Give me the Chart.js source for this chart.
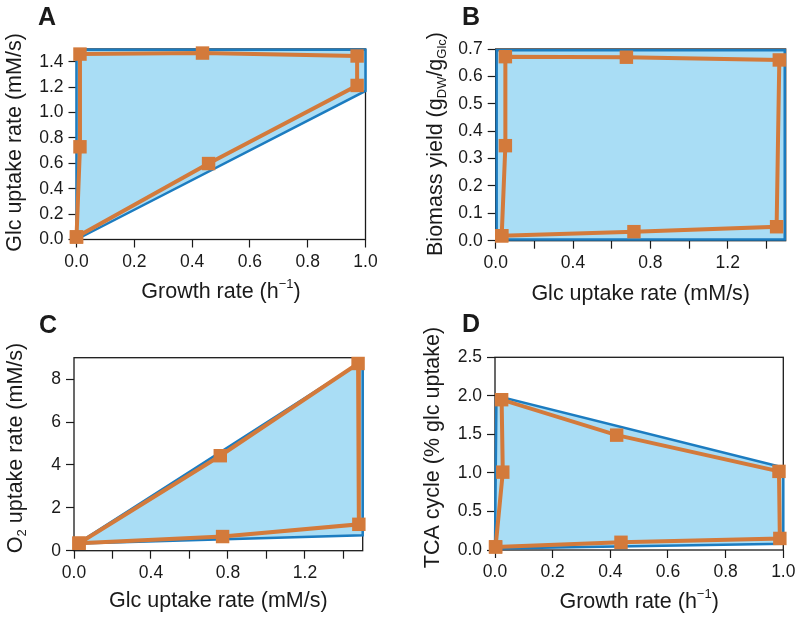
<!DOCTYPE html>
<html>
<head>
<meta charset="utf-8">
<script src="https://cdn.jsdelivr.net/npm/chart.js@4.4.1/dist/chart.umd.min.js"></script>
<style>
html, body { margin: 0; padding: 0; background: #fff; }
#wrap { position: relative; width: 800px; height: 617px; overflow: hidden; }
#wrap canvas { position: absolute; }
</style>
</head>
<body>
<div id="wrap">
<canvas id="panelA" width="400" height="308" style="left:0;top:0"></canvas>
<canvas id="panelB" width="400" height="308" style="left:400px;top:0"></canvas>
<canvas id="panelC" width="400" height="309" style="left:0;top:308px"></canvas>
<canvas id="panelD" width="400" height="309" style="left:400px;top:308px"></canvas>
</div>
<script>
// Panel A - glucose uptake vs growth rate
const aAreaX = [0.0, 0.0, 1.0, 1.0, 0.0];
const aAreaY = [0.0, 1.495, 1.495, 1.17, 0.0];
const aLineX = [0.0, 0.012, 0.012, 0.436, 0.971, 0.971, 0.457, 0.0];
const aLineY = [0.02, 0.73, 1.46, 1.468, 1.445, 1.213, 0.598, 0.02];
const aXTicks = [0, 0.2, 0.4, 0.6, 0.8, 1.0];
const aXLabels = ['0.0', '0.2', '0.4', '0.6', '0.8', '1.0'];
const aYTicks = [0, 0.2, 0.4, 0.6, 0.8, 1.0, 1.2, 1.4];
const aYLabels = ['0.0', '0.2', '0.4', '0.6', '0.8', '1.0', '1.2', '1.4'];

// Panel B - biomass yield vs glucose uptake
const bAreaX = [0.005, 0.005, 1.495, 1.495, 0.005];
const bAreaY = [0.004, 0.695, 0.695, 0.004, 0.004];
const bLineX = [0.031, 0.05, 0.05, 0.676, 1.467, 1.453, 0.715, 0.031];
const bLineY = [0.018, 0.347, 0.672, 0.67, 0.66, 0.051, 0.033, 0.018];
const bXTicks = [0, 0.2, 0.4, 0.6, 0.8, 1.0, 1.2, 1.4];
const bXLabels = ['0.0', '', '0.4', '', '0.8', '', '1.2', ''];
const bYTicks = [0, 0.1, 0.2, 0.3, 0.4, 0.5, 0.6, 0.7];
const bYLabels = ['0.0', '0.1', '0.2', '0.3', '0.4', '0.5', '0.6', '0.7'];

// Panel C - O2 uptake vs glucose uptake
const cAreaX = [0.02, 1.5, 1.5, 0.02];
const cAreaY = [0.34, 8.85, 0.72, 0.34];
const cLineX = [0.026, 0.76, 1.476, 1.48, 0.772, 0.026];
const cLineY = [0.35, 4.43, 8.73, 1.23, 0.66, 0.35];
const cXTicks = [0, 0.2, 0.4, 0.6, 0.8, 1.0, 1.2, 1.4];
const cXLabels = ['0.0', '', '0.4', '', '0.8', '', '1.2', ''];
const cYTicks = [0, 2, 4, 6, 8];
const cYLabels = ['0', '2', '4', '6', '8'];

// Panel D - TCA cycle vs growth rate
const dAreaX = [0.0, 0.005, 1.0, 1.0, 0.0];
const dAreaY = [0.02, 2.0, 1.07, 0.08, 0.02];
const dLineX = [0.002, 0.027, 0.023, 0.422, 0.985, 0.988, 0.437, 0.002];
const dLineY = [0.04, 1.01, 1.95, 1.49, 1.02, 0.15, 0.1, 0.04];
const dXTicks = [0, 0.2, 0.4, 0.6, 0.8, 1.0];
const dXLabels = ['0.0', '0.2', '0.4', '0.6', '0.8', '1.0'];
const dYTicks = [0, 0.5, 1.0, 1.5, 2.0, 2.5];
const dYLabels = ['0.0', '0.5', '1.0', '1.5', '2.0', '2.5'];

const FONT = "'Liberation Sans', Arial, Helvetica, sans-serif";
const INK = '#1a1a1a';
const BLUE_FILL = '#a9ddf5';
const BLUE_LINE = '#1c7cc0';
const ORANGE = '#d37a3b';

function pts(xs, ys) {
	return xs.map(function (x, i) { return {x: x, y: ys[i]}; });
}

// box around the plot area
const framePlugin = {
	id: 'frame',
	beforeDatasetsDraw(chart) {
		const a = chart.chartArea, ctx = chart.ctx;
		ctx.save();
		ctx.strokeStyle = INK;
		ctx.lineWidth = 1.3;
		ctx.strokeRect(a.left, a.top, a.right - a.left, a.bottom - a.top);
		ctx.restore();
	}
};

// draw a title made of parts, some of them sub- or superscript, centred on 0
function drawRich(ctx, parts, size) {
	const small = Math.round(size * 0.62);
	let total = 0;
	parts.forEach(function (p) {
		ctx.font = (p.s ? small : size) + 'px ' + FONT;
		p.w = ctx.measureText(p.t).width;
		total += p.w;
	});
	let x = -total / 2;
	parts.forEach(function (p) {
		ctx.font = (p.s ? small : size) + 'px ' + FONT;
		let dy = 0;
		if (p.s === 'sup') dy = -size * 0.45;
		if (p.s === 'sub') dy = size * 0.2;
		ctx.fillText(p.t, x, dy);
		x += p.w;
	});
}

// axis titles and the panel letter
const textPlugin = {
	id: 'panelText',
	afterDraw(chart, args, o) {
		const ctx = chart.ctx, a = chart.chartArea;
		ctx.save();
		ctx.fillStyle = INK;
		ctx.textBaseline = 'alphabetic';
		ctx.textAlign = 'left';

		ctx.font = 'bold 25px ' + FONT;
		ctx.fillText(o.letter, o.letterX, o.letterY);

		ctx.save();
		ctx.translate((a.left + a.right) / 2, o.xTitleY);
		drawRich(ctx, o.xTitle, 21.5);
		ctx.restore();

		ctx.save();
		ctx.translate(o.yTitleX, o.yTitleY);
		ctx.rotate(-Math.PI / 2);
		drawRich(ctx, o.yTitle, 21.5);
		ctx.restore();

		ctx.restore();
	}
};

function axis(min, max, ticks, labels, size, isX) {
	return {
		type: 'linear',
		min: min,
		max: max,
		afterFit: function (s) {
			if (isX) s.height = size; else s.width = size;
		},
		afterBuildTicks: function (s) {
			s.ticks = ticks.map(function (v) { return {value: v}; });
		},
		ticks: {
			callback: function (v, i) { return labels[i]; },
			font: {family: FONT, size: 17.5},
			color: INK,
			padding: isX ? 4 : 5,
			autoSkip: false,
			maxRotation: 0
		},
		grid: {
			drawOnChartArea: false,
			drawTicks: true,
			tickLength: 8,
			tickColor: INK,
			tickWidth: 1.2
		},
		border: {display: false}
	};
}

function makePanel(canvasId, o) {
	return new Chart(document.getElementById(canvasId), {
		type: 'line',
		data: {
			datasets: [
				{
					data: pts(o.lineX, o.lineY),
					borderColor: ORANGE,
					borderWidth: 4,
					pointStyle: 'rect',
					pointRadius: 9.5,
					pointBackgroundColor: ORANGE,
					pointBorderWidth: 0,
					fill: false,
					tension: 0,
					clip: false,
					order: 0
				},
				{
					data: pts(o.areaX, o.areaY),
					borderColor: BLUE_LINE,
					borderWidth: 2.5,
					backgroundColor: BLUE_FILL,
					pointRadius: 0,
					fill: 'shape',
					tension: 0,
					clip: false,
					order: 1
				}
			]
		},
		options: {
			responsive: false,
			animation: false,
			devicePixelRatio: 1,
			events: [],
			layout: {padding: {top: o.top, right: o.right, left: 0, bottom: 0}},
			plugins: {
				legend: {display: false},
				tooltip: {enabled: false},
				panelText: o.text
			},
			scales: {
				x: axis(o.xMin, o.xMax, o.xTicks, o.xLabels, o.xHeight, true),
				y: axis(o.yMin, o.yMax, o.yTicks, o.yLabels, o.yWidth, false)
			}
		},
		plugins: [framePlugin, textPlugin]
	});
}

makePanel('panelA', {
	areaX: aAreaX, areaY: aAreaY, lineX: aLineX, lineY: aLineY,
	xMin: 0, xMax: 1.0, xTicks: aXTicks, xLabels: aXLabels,
	yMin: 0, yMax: 1.5, yTicks: aYTicks, yLabels: aYLabels,
	top: 49, right: 34.5, yWidth: 76.5, xHeight: 68.5,
	text: {
		letter: 'A', letterX: 38, letterY: 25,
		xTitle: [{t: 'Growth rate (h'}, {t: '\u22121', s: 'sup'}, {t: ')'}], xTitleY: 298,
		yTitle: [{t: 'Glc uptake rate (mM/s)'}], yTitleX: 21, yTitleY: 142.5
	}
});

makePanel('panelB', {
	areaX: bAreaX, areaY: bAreaY, lineX: bLineX, lineY: bLineY,
	xMin: 0, xMax: 1.5, xTicks: bXTicks, xLabels: bXLabels,
	yMin: 0, yMax: 0.7, yTicks: bYTicks, yLabels: bYLabels,
	top: 49, right: 14.3, yWidth: 95.7, xHeight: 67.3,
	text: {
		letter: 'B', letterX: 62, letterY: 25,
		xTitle: [{t: 'Glc uptake rate (mM/s)'}], xTitleY: 300,
		yTitle: [{t: 'Biomass yield (g'}, {t: 'DW', s: 'sub'}, {t: '/g'}, {t: 'Glc', s: 'sub'}, {t: ')'}],
		yTitleX: 42, yTitleY: 144
	}
});

makePanel('panelC', {
	areaX: cAreaX, areaY: cAreaY, lineX: cLineX, lineY: cLineY,
	xMin: 0, xMax: 1.5, xTicks: cXTicks, xLabels: cXLabels,
	yMin: 0, yMax: 9, yTicks: cYTicks, yLabels: cYLabels,
	top: 49.7, right: 37.3, yWidth: 74, xHeight: 66.3,
	text: {
		letter: 'C', letterX: 39, letterY: 25,
		xTitle: [{t: 'Glc uptake rate (mM/s)'}], xTitleY: 299,
		yTitle: [{t: 'O'}, {t: '2', s: 'sub'}, {t: ' uptake rate (mM/s)'}],
		yTitleX: 21.5, yTitleY: 140
	}
});

makePanel('panelD', {
	areaX: dAreaX, areaY: dAreaY, lineX: dLineX, lineY: dLineY,
	xMin: 0, xMax: 1.0, xTicks: dXTicks, xLabels: dXLabels,
	yMin: 0, yMax: 2.5, yTicks: dYTicks, yLabels: dYLabels,
	top: 49.3, right: 16.7, yWidth: 95, xHeight: 67,
	text: {
		letter: 'D', letterX: 62, letterY: 24,
		xTitle: [{t: 'Growth rate (h'}, {t: '\u22121', s: 'sup'}, {t: ')'}], xTitleY: 300,
		yTitle: [{t: 'TCA cycle (% glc uptake)'}], yTitleX: 39, yTitleY: 139.5
	}
});
</script>
</body>
</html>
